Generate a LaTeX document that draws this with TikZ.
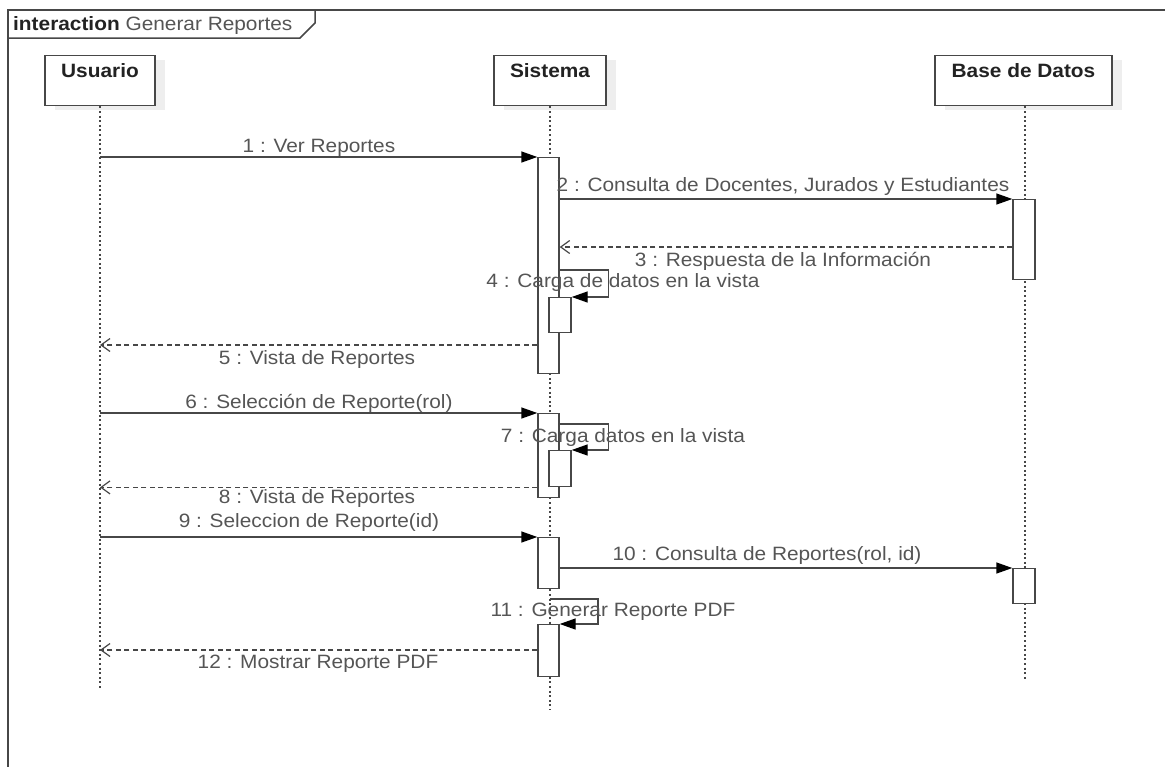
\documentclass[tikz,border=0pt]{standalone}
\usepackage{fontspec}
\setmainfont{Liberation Sans}[FakeStretch=1.08]
\usetikzlibrary{arrows.meta}
\definecolor{ln}{HTML}{474747}
\definecolor{tx}{HTML}{555555}
\definecolor{nm}{HTML}{222222}
\definecolor{shd}{HTML}{EEEEEE}
\begin{document}
\begin{tikzpicture}[x=1pt,y=-1pt,
  every node/.style={inner sep=0pt, font=\fontsize{19.3}{23}\selectfont},
  lbl/.style={anchor=base, text=tx},
  pname/.style={anchor=base, text=nm, font=\fontsize{19.3}{23}\selectfont\bfseries},
  part/.style={draw=ln, line width=1.4pt, fill=white, minimum height=50pt, anchor=north},
  bar/.style={draw=ln, line width=1.4pt, fill=white, minimum width=21pt, anchor=north},
  life/.style={draw=ln, line width=1.6pt, dash pattern=on 2pt off 2.6pt},
  sync/.style={draw=ln, line width=1.4pt, -{Triangle[length=16pt,width=11pt,color=black]}},
  ret/.style={draw=ln, line width=1.2pt, dash pattern=on 5pt off 3.5pt, -{Straight Barb[length=9pt,width=13pt,color=ln]}},
  framel/.style={draw=ln, line width=1.5pt}]
\useasboundingbox (0,0) rectangle (1165,766);
\clip (0,0) rectangle (1165,766);
% frame
\draw[framel] (8,800) -- (8,10) -- (1200,10);
\draw[framel] (8,38) -- (300,38) -- (315,23) -- (315,10);
\node[anchor=base west, text=nm] (title) at (13,30) {\textbf{interaction} \textcolor{tx}{Generar Reportes}};
% shadows
\fill[shd] (55,60) rectangle (165,110);
\fill[shd] (504,60) rectangle (616,110);
\fill[shd] (945,60) rectangle (1122,110);
% participants
\node[part, minimum width=110pt] (usr) at (100,55) {};
\node[part, minimum width=112pt] (sys) at (550,55) {};
\node[part, minimum width=177pt] (bd) at (1023.5,55) {};
\node[pname] (nusr) at (100,77) {Usuario};
\node[pname] (nsys) at (550,77) {Sistema};
\node[pname] (nbd) at (1023.5,77) {Base de Datos};
% lifeline ends
\coordinate (eusr) at (100,688);
\coordinate (esys) at (550,710);
\coordinate (ebd) at (1025,680);
\draw[life] (usr.south) -- (eusr);
\draw[life] (sys.south) -- (esys);
\draw[life] (bd.south -| ebd) -- (ebd);
% activation bars
\node[bar, minimum height=216pt] (s1) at (548.5,157) {};
\node[bar, minimum height=35pt, minimum width=22pt] (s1n) at (560,297) {};
\node[bar, minimum height=84pt] (s2) at (548.5,413) {};
\node[bar, minimum height=36pt, minimum width=22pt] (s2n) at (560,450) {};
\node[bar, minimum height=51pt] (s3) at (548.5,537) {};
\node[bar, minimum height=52pt] (s4) at (548.5,624) {};
\node[bar, minimum height=80pt, minimum width=22pt] (b1) at (1024,199) {};
\node[bar, minimum height=35pt, minimum width=22pt] (b2) at (1024,568) {};
% message rows
\coordinate (r3) at (0,247);
\coordinate (r4) at (0,270);
\coordinate (r5) at (0,345);
\coordinate (r7) at (0,424);
\coordinate (r11) at (0,599);
\coordinate (r12) at (0,650);
% messages
\draw[sync] (usr.south |- s1.north) -- (s1.north west);
\draw[sync] (s1.east |- b1.north) -- (b1.north west);
\draw[ret] (b1.west |- r3) -- (s1.east |- r3);
\draw[sync] (s1.east |- r4) -- ++(49,0) |- (s1n.north east);
\draw[ret] (s1.west |- r5) -- (usr.south |- r5);
\draw[sync] (usr.south |- s2.north) -- (s2.north west);
\draw[sync] (s2.east |- r7) -- ++(49,0) |- (s2n.north east);
\draw[ret] (s2.west |- s2n.south) -- (usr.south |- s2n.south);
\draw[sync] (usr.south |- s3.north) -- (s3.north west);
\draw[sync] (s3.east |- b2.north) -- (b2.north west);
\draw[sync] (sys.south |- r11) -- ++(48,0) |- (s4.north east);
\draw[ret] (s4.west |- r12) -- (usr.south |- r12);
% labels
\node[lbl] (l1) at (319,152) {1 : Ver Reportes};
\node[lbl] (l2) at (783,191) {2 : Consulta de Docentes, Jurados y Estudiantes};
\node[lbl] (l3) at (783,266) {3 : Respuesta de la Información};
\node[lbl] (l4) at (623,287) {4 : Carga de datos en la vista};
\node[lbl] (l5) at (317,364) {5 : Vista de Reportes};
\node[lbl] (l6) at (319,408) {6 : Selección de Reporte(rol)};
\node[lbl] (l7) at (623,442) {7 : Carga datos en la vista};
\node[lbl] (l8) at (317,503) {8 : Vista de Reportes};
\node[lbl] (l9) at (309,527) {9 : Seleccion de Reporte(id)};
\node[lbl] (l10) at (767,560) {10 : Consulta de Reportes(rol, id)};
\node[lbl] (l11) at (613,616) {11 : Generar Reporte PDF};
\node[lbl] (l12) at (318,668) {12 : Mostrar Reporte PDF};
\end{tikzpicture}
\end{document}
